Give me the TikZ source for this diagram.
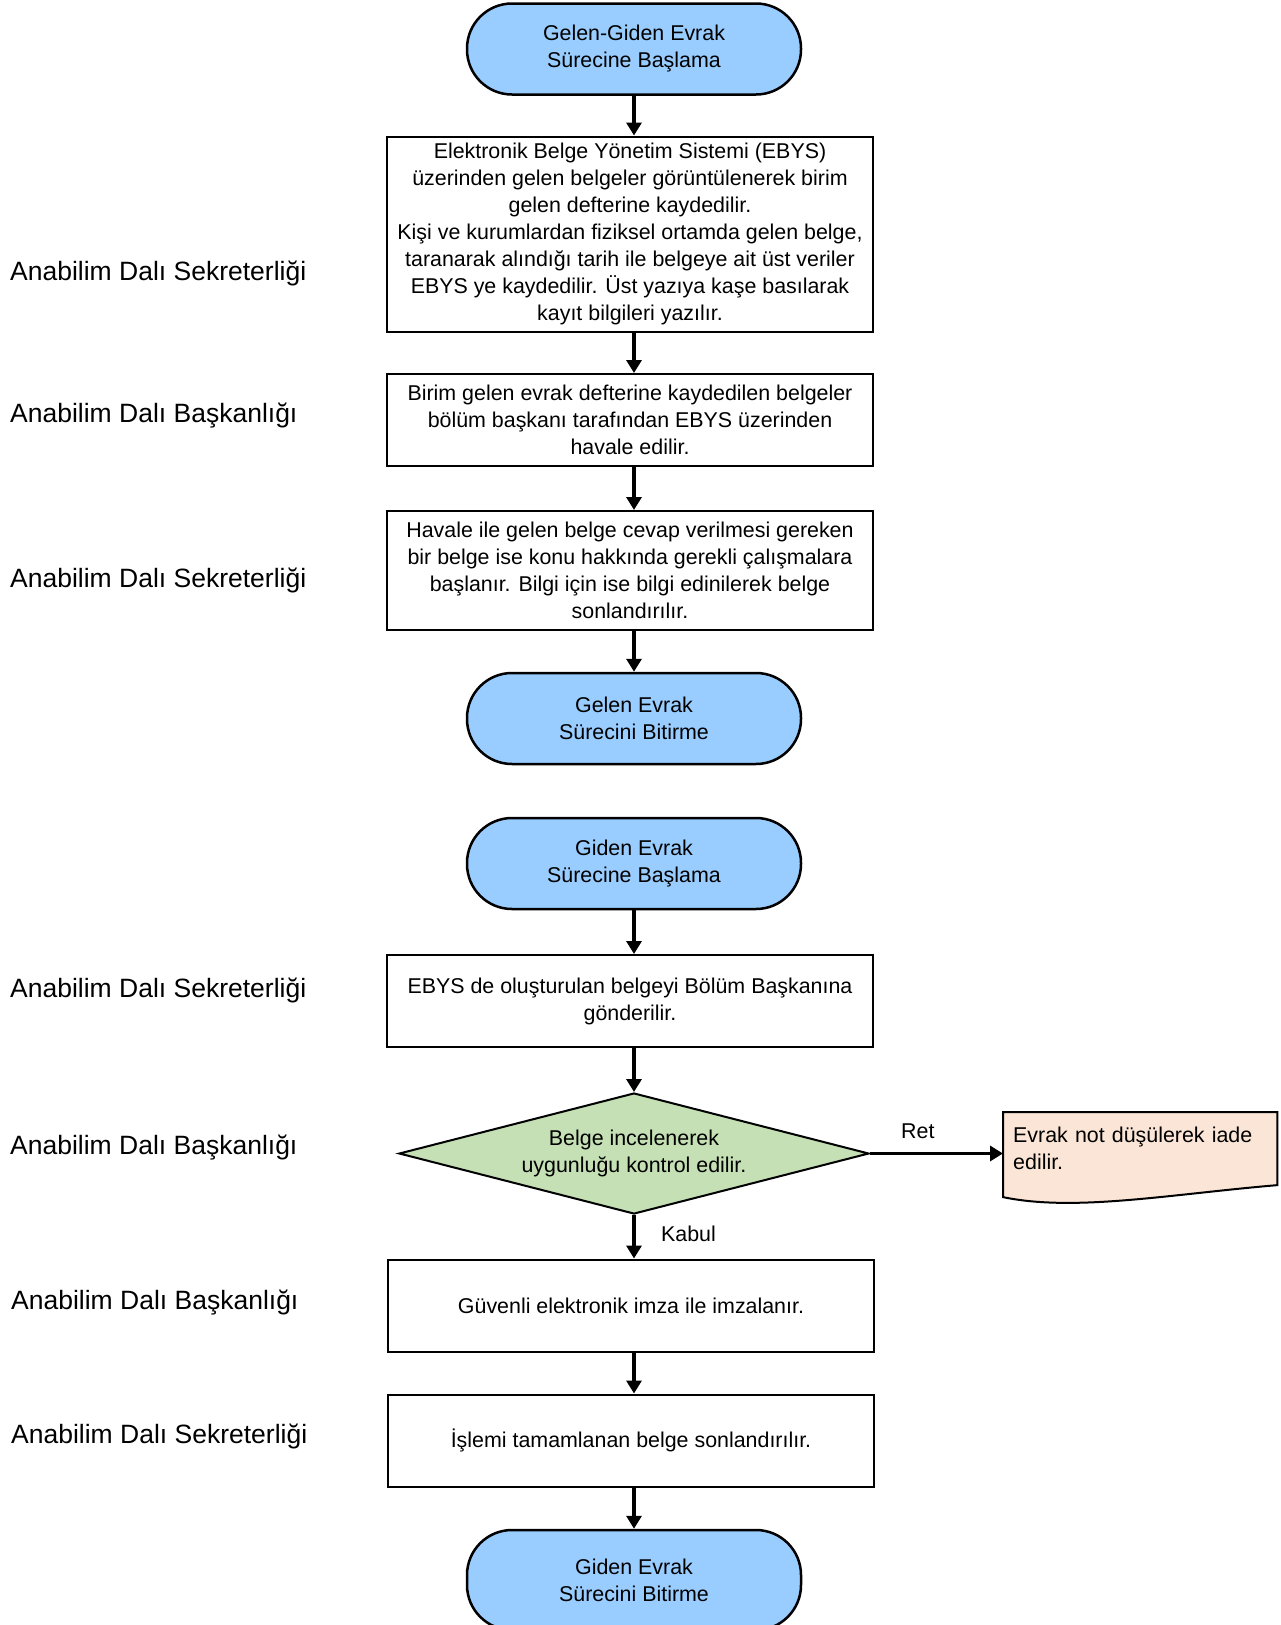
\documentclass[tikz,border=0pt]{standalone}
\usepackage{fontspec}
\setmainfont{Liberation Sans}
\usetikzlibrary{arrows.meta,shapes.geometric,backgrounds}
\definecolor{termblue}{HTML}{99CCFF}
\definecolor{decgreen}{HTML}{C5E0B4}
\definecolor{docpeach}{HTML}{FBE5D6}
\tikzset{
  		terminal/.style = {% rounded start and end nodes
    	rectangle,
    	rounded corners=45pt,
    	fill=termblue,
    	draw=black,
    	line width=2.5pt,
    	minimum width=334pt,
    	minimum height=91pt,
    	align=center,
    	font={\fontsize{21.4pt}{27pt}\selectfont},
  	},
  		stepbox/.style = {% plain process boxes
    	rectangle,
    	fill=white,
    	draw=black,
    	line width=2pt,
    	minimum width=486pt,
    	minimum height=92pt,
    	align=center,
    	font={\fontsize{21.4pt}{27pt}\selectfont},
  	},
  		decision/.style = {% the check diamond
    	diamond,
    	aspect=3.9,
    	inner sep=0pt,
    	fill=decgreen,
    	draw=black,
    	line width=2pt,
    	minimum width=470pt,
    	minimum height=121pt,
    	align=center,
    	font={\fontsize{21.4pt}{27pt}\selectfont},
  	},
  		docnode/.style = {% text of the document shape
    	anchor=north west,
    	text width=254pt,
    	inner xsep=10pt,
    	inner ysep=15pt,
    	align=left,
    	font={\fontsize{21.4pt}{27pt}\selectfont},
  	},
  		docshape/.style = {fill=docpeach, draw=black, line width=2pt},
  		lane/.style = {anchor=west, inner sep=0pt, font={\fontsize{26.5pt}{32pt}\selectfont}},
  		flowlabel/.style = {font={\fontsize{21.4pt}{27pt}\selectfont}},
  		arrow/.style = {line width=3.5pt, -{Triangle[width=15pt,length=13pt]}},
	}

\begin{document}
\begin{tikzpicture}[x=1pt, y=-1pt]
    	\useasboundingbox (0,0) rectangle (1281,1625);
    	% incoming documents
    	\node[terminal] (start) at (634,49) {Gelen-Giden Evrak\\Sürecine Başlama};
    	\node[stepbox, minimum height=195pt] (b1) at (630,234) {Elektronik Belge Yönetim Sistemi (EBYS)\\üzerinden gelen belgeler görüntülenerek birim\\gelen defterine kaydedilir.\\Kişi ve kurumlardan fiziksel ortamda gelen belge,\\taranarak alındığı tarih ile belgeye ait üst veriler\\EBYS ye kaydedilir. Üst yazıya kaşe basılarak\\kayıt bilgileri yazılır.};
    	\node[stepbox] (b2) at (630,420) {Birim gelen evrak defterine kaydedilen belgeler\\bölüm başkanı tarafından EBYS üzerinden\\havale edilir.};
    	\node[stepbox, minimum height=119pt] (b3) at (630,570.5) {Havale ile gelen belge cevap verilmesi gereken\\bir belge ise konu hakkında gerekli çalışmalara\\başlanır. Bilgi için ise bilgi edinilerek belge\\sonlandırılır.};
    	\node[terminal] (end1) at (634,718.5) {Gelen Evrak\\Sürecini Bitirme};
    	% outgoing documents
    	\node[terminal] (start2) at (634,863.5) {Giden Evrak\\Sürecine Başlama};
    	\node[stepbox] (b4) at (630,1001) {EBYS de oluşturulan belgeyi Bölüm Başkanına\\gönderilir.};
    	\node[decision] (dia) at (634,1153.5) {Belge incelenerek\\uygunluğu kontrol edilir.};
    	\node[docnode] (ret) at (1003,1112) {Evrak not düşülerek iade\\edilir.};
    	\begin{scope}[on background layer]
      	\draw[docshape] (ret.north west) -- (ret.north east) -- (ret.south east)
        	 .. controls +(-107,9) and +(72,15) .. ([yshift=-12pt]ret.south west) -- cycle;
    	\end{scope}
    	\node[stepbox] (b5) at (631,1305.5) {Güvenli elektronik imza ile imzalanır.};
    	\node[stepbox] (b6) at (631,1440.5) {İşlemi tamamlanan belge sonlandırılır.};
    	\node[terminal, minimum height=100pt] (end2) at (634,1580) {Giden Evrak\\Sürecini Bitirme};
    	% straight arrows down the chart
    	\foreach \a/\b in {start/b1, b1/b2, b2/b3, b3/end1, start2/b4, b4/dia, b5/b6, b6/end2}
      	\draw[arrow] (\a.south -| start) -- (\b.north -| start);
    	\draw[arrow] (dia.south) -- node[flowlabel, right=22pt, yshift=3pt] {Kabul} (b5.north -| dia);
    	\draw[arrow] (dia.east) -- node[flowlabel, above=10pt, pos=0.36] {Ret} (dia.east -| ret.west);
    	% who does each step
    	\foreach \x/\y/\t [count=\i] in {10/273/Anabilim Dalı Sekreterliği, 10/416/Anabilim Dalı Başkanlığı,
      	10/580/Anabilim Dalı Sekreterliği, 10/990/Anabilim Dalı Sekreterliği, 10/1148/Anabilim Dalı Başkanlığı,
      	11/1303/Anabilim Dalı Başkanlığı, 11/1436/Anabilim Dalı Sekreterliği}
      	\node[lane] (lane\i) at (\x,\y) {\t};
 	\end{tikzpicture}
\end{document}
